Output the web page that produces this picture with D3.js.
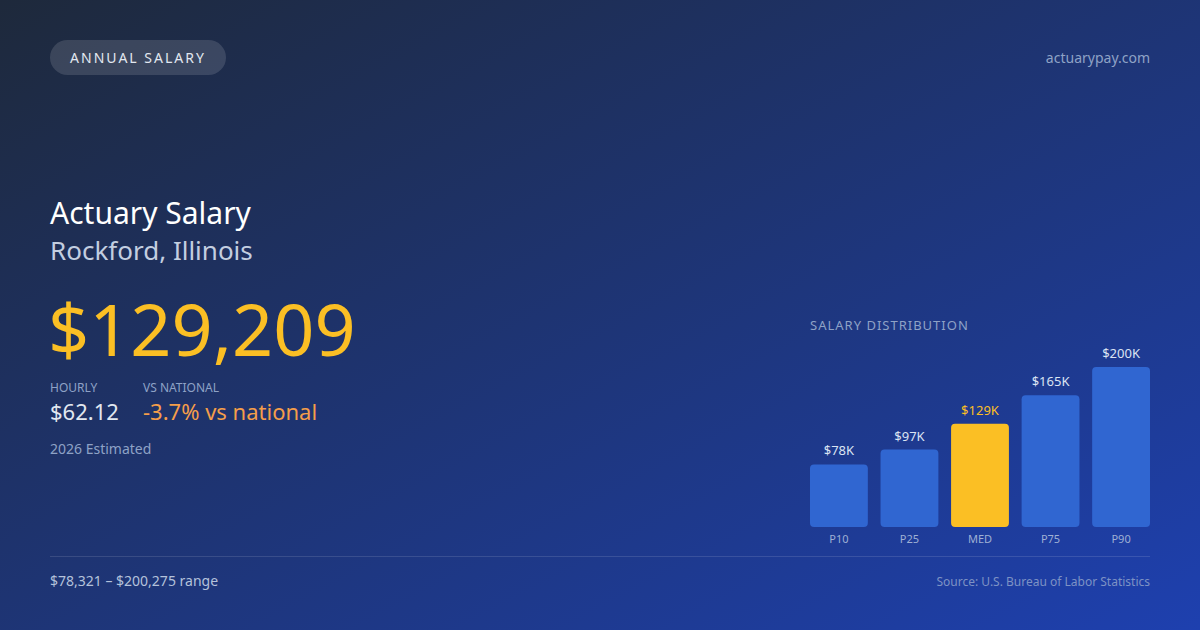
<!DOCTYPE html>
<html>
<head>
<meta charset="utf-8">
<script src="https://cdn.jsdelivr.net/npm/d3@7"></script>
<style>
  html, body { margin: 0; padding: 0; background: #1e293b; }
  svg { display: block; font-family: 'Noto Sans', 'Open Sans', sans-serif; }
</style>
</head>
<body>
<div id="card"></div>
<script>
// data
var categories = ['P10', 'P25', 'MED', 'P75', 'P90']
var values = [78321, 97000, 129209, 165000, 200275]
var valueLabels = ['$78K', '$97K', '$129K', '$165K', '$200K']
var highlight = 'MED'

var W = 1200, H = 630

var svg = d3.select('#card')
            .append('svg')
            .attr('width', W)
            .attr('height', H)

var defs = svg.append('defs')
var grad = defs.append('linearGradient')
    .attr('id', 'bg')
    .attr('x1', '0%').attr('y1', '0%')
    .attr('x2', '100%').attr('y2', '100%')
grad.append('stop').attr('offset', '0%').attr('stop-color', '#1e293b')
grad.append('stop').attr('offset', '100%').attr('stop-color', '#1e40af')

svg.append('rect')
    .attr('width', W)
    .attr('height', H)
    .attr('fill', 'url(#bg)')

// header pill
svg.append('rect')
    .attr('x', 50).attr('y', 40)
    .attr('width', 176).attr('height', 35)
    .attr('rx', 17.5)
    .attr('fill', 'rgba(255,255,255,0.13)')
svg.append('text')
    .attr('x', 138).attr('y', 62.5)
    .attr('text-anchor', 'middle')
    .attr('fill', '#e2e8f0')
    .style('font-size', '14px')
    .style('letter-spacing', '2px')
    .text('ANNUAL SALARY')

svg.append('text')
    .attr('x', 1150).attr('y', 63)
    .attr('text-anchor', 'end')
    .attr('fill', '#8ea2c6')
    .style('font-size', '14px')
    .text('actuarypay.com')

// title block
svg.append('text')
    .attr('x', 50).attr('y', 224)
    .attr('fill', '#ffffff')
    .style('font-size', '30px')
    .text('Actuary Salary')
svg.append('text')
    .attr('x', 50).attr('y', 260)
    .attr('fill', '#c3cee0')
    .style('font-size', '26px')
    .text('Rockford, Illinois')

svg.append('text')
    .attr('x', 48).attr('y', 356)
    .attr('fill', '#fbbf24')
    .style('font-size', '72px')
    .text('$129,209')

svg.append('text')
    .attr('x', 50).attr('y', 392)
    .attr('fill', '#8ea2c6')
    .style('font-size', '12px')
    .text('HOURLY')
svg.append('text')
    .attr('x', 50).attr('y', 420)
    .attr('fill', '#e2e8f0')
    .style('font-size', '22px')
    .text('$62.12')
svg.append('text')
    .attr('x', 143).attr('y', 392)
    .attr('fill', '#8ea2c6')
    .style('font-size', '12px')
    .text('VS NATIONAL')
svg.append('text')
    .attr('x', 143).attr('y', 420)
    .attr('fill', '#f59e4a')
    .style('font-size', '22px')
    .text('-3.7% vs national')

svg.append('text')
    .attr('x', 50).attr('y', 454)
    .attr('fill', '#8ea2c6')
    .style('font-size', '14px')
    .text('2026 Estimated')

// distribution chart
svg.append('text')
    .attr('x', 810).attr('y', 330)
    .attr('fill', '#8ea2c6')
    .style('font-size', '13px')
    .style('letter-spacing', '1px')
    .text('SALARY DISTRIBUTION')

var x = d3.scaleBand()
    .domain(categories)
    .range([810, 1150])
    .paddingInner(0.18)
    .paddingOuter(0)

var y = d3.scaleLinear()
    .domain([0, d3.max(values)])
    .range([527, 367])

var g = svg.append('g')

g.selectAll('rect.bar')
    .data(values)
    .enter()
    .append('rect')
    .attr('class', 'bar')
    .attr('x', function(d, i){ return x(categories[i]) })
    .attr('y', function(d){ return y(d) })
    .attr('width', x.bandwidth())
    .attr('height', function(d){ return y(0) - y(d) })
    .attr('rx', 4)
    .attr('fill', function(d, i){ if(categories[i] == highlight){ return '#fbbf24' } else { return '#3066d1' } })

g.selectAll('text.val')
    .data(values)
    .enter()
    .append('text')
    .attr('class', 'val')
    .attr('x', function(d, i){ return x(categories[i]) + x.bandwidth() / 2 })
    .attr('y', function(d){ return y(d) - 9 })
    .attr('text-anchor', 'middle')
    .attr('fill', function(d, i){ if(categories[i] == highlight){ return '#fbbf24' } else { return '#dbe4f3' } })
    .style('font-size', '13px')
    .text(function(d, i){ return valueLabels[i] })

g.selectAll('text.cat')
    .data(categories)
    .enter()
    .append('text')
    .attr('class', 'cat')
    .attr('x', function(d){ return x(d) + x.bandwidth() / 2 })
    .attr('y', 543)
    .attr('text-anchor', 'middle')
    .attr('fill', '#9fb0d4')
    .style('font-size', '11px')
    .text(function(d){ return d })

// footer
svg.append('line')
    .attr('x1', 50).attr('x2', 1150)
    .attr('y1', 556.5).attr('y2', 556.5)
    .attr('stroke', 'rgba(255,255,255,0.12)')
    .attr('stroke-width', 1)

svg.append('text')
    .attr('x', 50).attr('y', 586)
    .attr('fill', '#b4c2db')
    .style('font-size', '14px')
    .text('$78,321 \u2013 $200,275 range')

svg.append('text')
    .attr('x', 1150).attr('y', 586)
    .attr('text-anchor', 'end')
    .attr('fill', '#7d92c4')
    .style('font-size', '12px')
    .text('Source: U.S. Bureau of Labor Statistics')
</script>
</body>
</html>
